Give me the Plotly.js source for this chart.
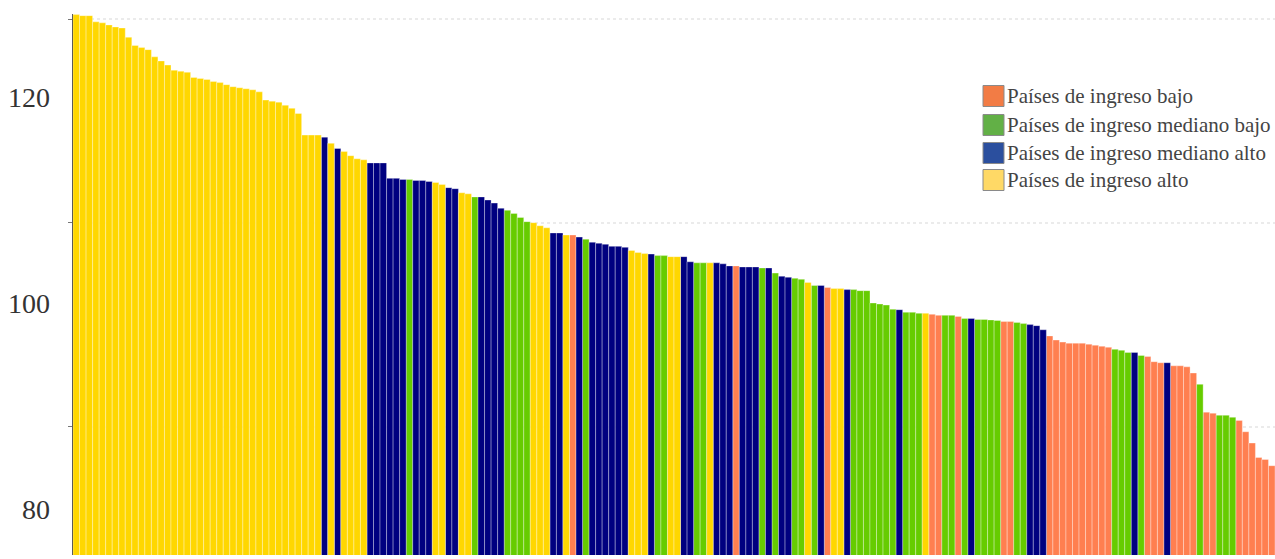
<!DOCTYPE html>
<html>
<head>
<meta charset="utf-8">
<script src="https://cdn.plot.ly/plotly-3.0.1.min.js"></script>
<style>html,body{margin:0;padding:0;background:#fff;}#chart{width:1275px;height:559px;}</style>
</head>
<body>
<div id="chart"></div>
<script>
// Income group of each country bar, in sorted (descending) order
// H = alto, UM = mediano alto, LM = mediano bajo, L = bajo
const groups = [
  "H","H","H","H","H","H","H","H","H","H",
  "H","H","H","H","H","H","H","H","H","H",
  "H","H","H","H","H","H","H","H","H","H",
  "H","H","H","H","H","H","H","H","UM","H",
  "UM","H","H","H","H","UM","UM","UM","UM","UM",
  "UM","LM","UM","UM","UM","H","H","UM","UM","H",
  "H","LM","UM","UM","UM","UM","LM","LM","LM","LM",
  "H","H","H","UM","UM","H","L","UM","LM","UM",
  "UM","UM","UM","UM","UM","H","H","H","UM","LM",
  "LM","H","H","UM","UM","LM","LM","H","UM","UM",
  "UM","L","UM","UM","UM","LM","UM","LM","UM","UM",
  "LM","LM","H","LM","UM","L","H","H","UM","LM",
  "LM","LM","LM","LM","LM","LM","UM","LM","LM","LM",
  "H","L","L","LM","LM","L","LM","UM","LM","LM",
  "LM","LM","L","L","LM","LM","UM","UM","UM","L",
  "L","L","L","L","L","L","L","L","L","LM",
  "LM","LM","UM","LM","L","L","L","UM","L","L",
  "L","L","LM","L","L","LM","LM","LM","L","L",
  "L","L","L","L"
];
const values = [
  128.0,127.9,127.9,127.3,127.2,127.0,126.8,126.7,125.8,125.0,
  124.8,124.6,123.9,123.5,123.1,122.6,122.5,122.4,121.9,121.8,
  121.7,121.5,121.4,121.2,121.0,120.9,120.8,120.7,120.5,119.7,
  119.6,119.5,119.2,118.9,118.4,116.3,116.3,116.3,116.1,115.5,
  115.0,114.7,114.3,114.0,113.9,113.6,113.6,113.6,112.1,112.1,
  112.0,112.0,111.9,111.9,111.8,111.7,111.5,111.2,111.1,110.7,
  110.6,110.3,110.3,110.0,109.7,109.2,109.0,108.7,108.3,107.9,
  107.8,107.5,107.3,106.8,106.8,106.6,106.6,106.4,106.2,105.9,
  105.8,105.7,105.5,105.5,105.4,105.1,104.9,104.8,104.75,104.6,
  104.6,104.5,104.5,104.5,104.0,103.9,103.9,103.9,103.9,103.8,
  103.6,103.6,103.5,103.5,103.5,103.4,103.4,102.9,102.6,102.5,
  102.4,102.3,102.0,101.7,101.7,101.5,101.4,101.4,101.3,101.3,
  101.2,101.2,100.0,99.9,99.8,99.4,99.35,99.1,99.1,99.0,
  99.0,98.9,98.8,98.8,98.8,98.7,98.5,98.5,98.4,98.4,
  98.35,98.3,98.2,98.2,98.1,98.0,97.9,97.8,97.4,96.8,
  96.4,96.2,96.1,96.1,96.1,96.0,95.9,95.8,95.7,95.5,
  95.4,95.2,95.2,94.9,94.8,94.3,94.2,94.2,93.9,93.9,
  93.8,93.2,92.1,89.4,89.3,89.1,89.1,88.9,88.6,87.5,
  86.4,85.0,84.8,84.2
];
const groupOrder = ["L","LM","UM","H"];
const groupNames = ["Países de ingreso bajo","Países de ingreso mediano bajo","Países de ingreso mediano alto","Países de ingreso alto"];
const yTickVals = [80,100,120];
const yTickText = ["80","100","120"];

const barColors = {L:"#FF7F50", LM:"#66CC00", UM:"#000080", H:"#FFD700"};
const legendColors = {L:"#F27C45", LM:"#62B046", UM:"#2B4F9E", H:"#FFD966"};

const traces = groupOrder.map((g, k) => {
  const xs = [], ys = [];
  values.forEach((v, i) => { if (groups[i] === g) { xs.push(i); ys.push(v); } });
  return {
    type: "bar", x: xs, y: ys, name: groupNames[k], showlegend: false,
    marker: {color: barColors[g], line: {color: "rgba(255,255,255,0.32)", width: 1}},
    hoverinfo: "y"
  };
});

// plot area pixel geometry helpers for legend
const L = 73, T = 14, W = 1202, H = 541;
const px = x => (x - L) / W;
const py = y => (T + H - y) / H;

const shapes = [], annotations = [];
const rowY = [96, 125, 153, 180];
groupOrder.forEach((g, k) => {
  const cy = rowY[k];
  shapes.push({type:"rect", xref:"paper", yref:"paper",
    x0: px(983), x1: px(1004), y0: py(cy + 10.5), y1: py(cy - 10.5),
    fillcolor: legendColors[g], line:{color:"#8a8a8a", width:1}, layer:"above"});
  annotations.push({xref:"paper", yref:"paper", x: px(1005), y: py(cy), xanchor:"left", yanchor:"middle",
    text: groupNames[k], showarrow:false,
    font:{family:"Liberation Serif, Times New Roman, serif", size:21, color:"#444"}});
});

const layout = {
  width: 1275, height: 559,
  margin: {l: L, r: 0, t: T, b: 559 - T - H, pad: 0},
  paper_bgcolor: "#fff", plot_bgcolor: "#fff",
  bargap: 0, barmode: "overlay",
  showlegend: false,
  xaxis: {range: [-0.5, values.length - 0.5], showticklabels: false, showgrid: false, zeroline: false, showline: false, ticks: ""},
  yaxis: {
    range: [75.53, 128.06], tickvals: yTickVals, ticktext: yTickText, ticks: "",
    showgrid: false, zeroline: false, showline: true, linecolor: "#5a5a5a", linewidth: 1.5,
    ticklabelstandoff: 16,
    tickfont: {family: "Liberation Serif, Times New Roman, serif", size: 28, color: "#333"},
    minor: {tickvals: [87.96, 107.77, 127.57], ticks: "outside", ticklen: 4, tickcolor: "#777", tickwidth: 1,
            showgrid: true, gridcolor: "#ebebeb", gridwidth: 1.5, griddash: "dot"}
  },
  shapes: shapes, annotations: annotations
};

Plotly.newPlot("chart", traces, layout, {staticPlot: true, displayModeBar: false});
</script>
</body>
</html>
